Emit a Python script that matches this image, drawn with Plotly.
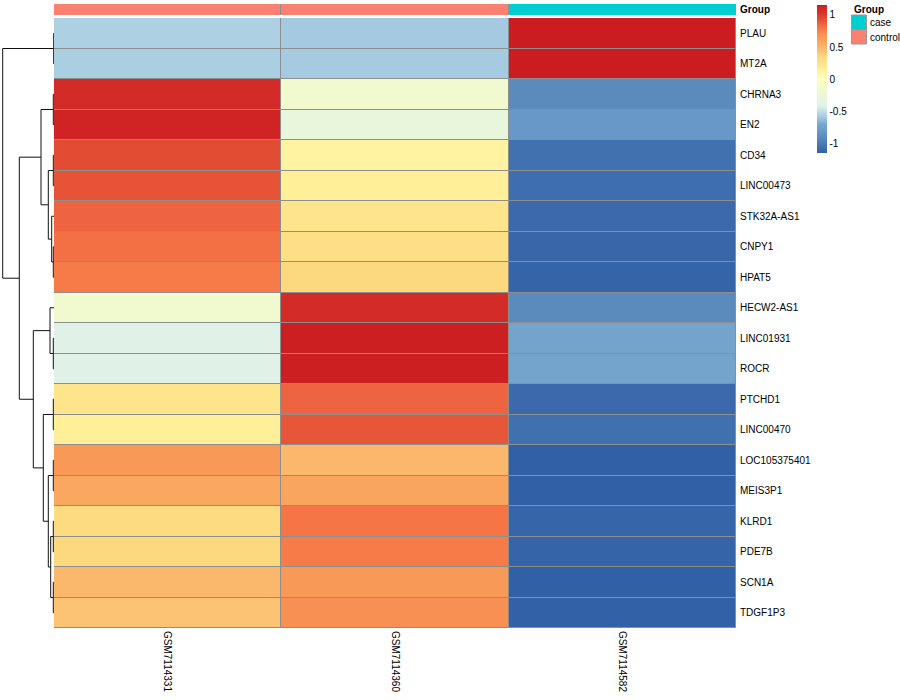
import plotly.graph_objects as go

# ---------------- data ----------------
samples = ["GSM7114331", "GSM7114360", "GSM7114582"]
sample_group = ["control", "control", "case"]

genes = ["PLAU", "MT2A", "CHRNA3", "EN2", "CD34", "LINC00473", "STK32A-AS1",
         "CNPY1", "HPAT5", "HECW2-AS1", "LINC01931", "ROCR", "PTCHD1",
         "LINC00470", "LOC105375401", "MEIS3P1", "KLRD1", "PDE7B", "SCN1A",
         "TDGF1P3"]

GSM7114331 = [-0.565, -0.570, 1.071, 1.115, 0.934, 0.910, 0.858, 0.816, 0.773,
              -0.161, -0.414, -0.414, 0.240, 0.161, 0.662, 0.570, 0.328, 0.357,
              0.488, 0.433]
GSM7114360 = [-0.590, -0.585, -0.161, -0.299, 0.121, 0.161, 0.240, 0.299, 0.357,
              1.071, 1.140, 1.140, 0.858, 0.900, 0.488, 0.585, 0.795, 0.773,
              0.662, 0.711]
GSM7114582 = [1.155, 1.155, -0.910, -0.816, -1.055, -1.071, -1.098, -1.115, -1.129,
              -0.910, -0.727, -0.727, -1.098, -1.061, -1.150, -1.155, -1.123, -1.129,
              -1.150, -1.143]

group_names = ["case", "control"]
group_colors = ["#00CED1", "#FA8072"]

# row dendrogram: (left, right, height)
merges = [
    ("PLAU", "MT2A", 0.3),            # m0
    ("CHRNA3", "EN2", 0.7),           # m1
    ("CD34", "LINC00473", 0.7),       # m2
    ("CNPY1", "HPAT5", 0.7),          # m3
    ("STK32A-AS1", "m3", 2.3),        # m4
    ("m2", "m4", 5.7),                # m5
    ("m1", "m5", 13.0),               # m6
    ("LINC01931", "ROCR", 0.7),       # m7
    ("HECW2-AS1", "m7", 4.0),         # m8
    ("PTCHD1", "LINC00470", 0.7),     # m9
    ("LOC105375401", "MEIS3P1", 0.7), # m10
    ("KLRD1", "PDE7B", 0.7),          # m11
    ("SCN1A", "TDGF1P3", 0.7),        # m12
    ("m11", "m12", 3.3),              # m13
    ("m10", "m13", 5.7),              # m14
    ("m9", "m14", 10.7),              # m15
    ("m8", "m15", 20.7),              # m16
    ("m6", "m16", 34.7),              # m17
    ("m0", "m17", 51.3),              # m18
]

colorbar_ticks = [1, 0.5, 0, -0.5, -1]

# ---------------- style ----------------
FONT = "Liberation Sans, Arial, Helvetica, sans-serif"
ZMIN, ZMAX = -1.15, 1.155
stops = [(-1.15, '#3260A6'), (-0.91, '#5B8BBD'), (-0.80, '#6A9AC8'), (-0.70, '#78A8CE'),
         (-0.577, '#A9CDE2'), (-0.42, '#E0F2E8'), (-0.25, '#EBF7D6'), (-0.12, '#F3FBCB'),
         (0.0, '#FFFFBF'), (0.15, '#FFF09A'), (0.25, '#FEE48A'), (0.36, '#FCD87E'),
         (0.45, '#FBBE70'), (0.52, '#FBB167'), (0.6, '#F9A25C'), (0.7, '#F89355'),
         (0.77, '#F77B49'), (0.83, '#F16C43'), (0.86, '#EE6340'), (0.92, '#E45034'),
         (1.05, '#D52F29'), (1.155, '#CB1C21')]
colorscale = [[(v - ZMIN) / (ZMAX - ZMIN), c] for v, c in stops]
colorscale[0][0] = 0.0
colorscale[-1][0] = 1.0

W, H = 900, 700
hm_left, hm_right = 54, 736
hm_top, hm_bottom = 18, 628
an_top, an_bottom = 4, 15
GRID = "#8E8E8E"

z = [list(r) for r in zip(GSM7114331, GSM7114360, GSM7114582)]
rows = list(range(len(genes)))
cols = list(range(len(samples)))

fig = go.Figure()

# main heatmap
fig.add_trace(go.Heatmap(
    z=z, x=cols, y=rows, colorscale=colorscale, zmin=ZMIN, zmax=ZMAX,
    xgap=1, ygap=1, hoverinfo="skip",
    colorbar=dict(
        thickness=10, thicknessmode="pixels", len=148, lenmode="pixels",
        x=817 / W, xanchor="left", y=1 - 5 / H, yanchor="top",
        outlinewidth=0, tickvals=colorbar_ticks, ticktext=[str(t) for t in colorbar_ticks],
        ticks="", tickfont=dict(family=FONT, size=10, color="#000"), ypad=0, xpad=0,
    ),
    xaxis="x", yaxis="y",
))

# annotation bar
gidx = [group_names.index(g) for g in sample_group]
fig.add_trace(go.Heatmap(
    z=[gidx], x=cols, y=[0],
    colorscale=[[0, group_colors[0]], [0.5, group_colors[0]], [0.5, group_colors[1]], [1, group_colors[1]]],
    zmin=0, zmax=1, showscale=False, xgap=1, hoverinfo="skip",
    xaxis="x", yaxis="y2",
))

# dendrogram
pos = {g: i for i, g in enumerate(genes)}
hgt = {g: 0.0 for g in genes}
dx, dy = [], []
for k, (a, b, h) in enumerate(merges):
    ya, yb = pos[a], pos[b]
    ha, hb = hgt[a], hgt[b]
    dx += [ha, h, h, hb, None]
    dy += [ya, ya, yb, yb, None]
    name = f"m{k}"
    pos[name] = (ya + yb) / 2
    hgt[name] = h
fig.add_trace(go.Scatter(x=dx, y=dy, mode="lines", line=dict(color="#111", width=1),
                         hoverinfo="skip", showlegend=False, xaxis="x2", yaxis="y"))

# grid background shapes (show through gaps)
fig.add_shape(type="rect", xref="x", yref="y", x0=-0.5, x1=len(samples) - 0.5,
              y0=-0.5, y1=len(genes) - 0.5, fillcolor=GRID, line=dict(color=GRID, width=1),
              layer="below")
fig.add_shape(type="rect", xref="x", yref="y2", x0=-0.5, x1=len(samples) - 0.5,
              y0=-0.5, y1=0.5, fillcolor=GRID, line=dict(color=GRID, width=1), layer="below")

# legend for Group
fig.add_annotation(x=852 / W, y=1 - 10 / H, xref="paper", yref="paper", text="<b>Group</b>",
                   showarrow=False, xanchor="left", yanchor="middle",
                   font=dict(family=FONT, size=10, color="#000"))
for i, (gname, gcol) in enumerate(zip(group_names, group_colors)):
    top = 15 + i * 14.5
    fig.add_shape(type="rect", xref="paper", yref="paper", x0=851.5 / W, x1=866.5 / W,
                  y0=1 - (top + 14.5) / H, y1=1 - top / H, fillcolor=gcol,
                  line=dict(color="#9a9a9a", width=1))
    fig.add_annotation(x=868 / W, y=1 - (top + 8) / H, xref="paper", yref="paper", text=gname,
                       showarrow=False, xanchor="left", yanchor="middle",
                       font=dict(family=FONT, size=10, color="#000"))

fig.update_layout(
    width=W, height=H, margin=dict(l=0, r=0, t=0, b=0),
    paper_bgcolor="white", plot_bgcolor="white", showlegend=False,
    xaxis=dict(domain=[hm_left / W, hm_right / W], range=[-0.5, len(samples) - 0.5],
               tickvals=cols, ticktext=samples, tickangle=90, ticks="",
               showgrid=False, zeroline=False, showline=False,
               tickfont=dict(family=FONT, size=10, color="#000"), ticklabelstandoff=2),
    yaxis=dict(domain=[1 - hm_bottom / H, 1 - hm_top / H], range=[len(genes) - 0.5, -0.5],
               tickvals=rows, ticktext=genes, side="right", ticks="",
               showgrid=False, zeroline=False, showline=False,
               tickfont=dict(family=FONT, size=10, color="#000"), ticklabelstandoff=3),
    yaxis2=dict(domain=[1 - an_bottom / H, 1 - an_top / H], range=[-0.5, 0.5],
                tickvals=[0], ticktext=["<b>Group</b>"], side="right", ticks="",
                showgrid=False, zeroline=False, showline=False, anchor="x",
                tickfont=dict(family=FONT, size=10, color="#000"), ticklabelstandoff=3),
    xaxis2=dict(domain=[0, hm_left / W], range=[54, 0], showticklabels=False, ticks="",
                showgrid=False, zeroline=False, showline=False, anchor="y"),
)

fig.write_html("out.html", config={"displayModeBar": False},
               post_script="document.body.style.margin='0px';document.body.style.overflow='hidden';")
